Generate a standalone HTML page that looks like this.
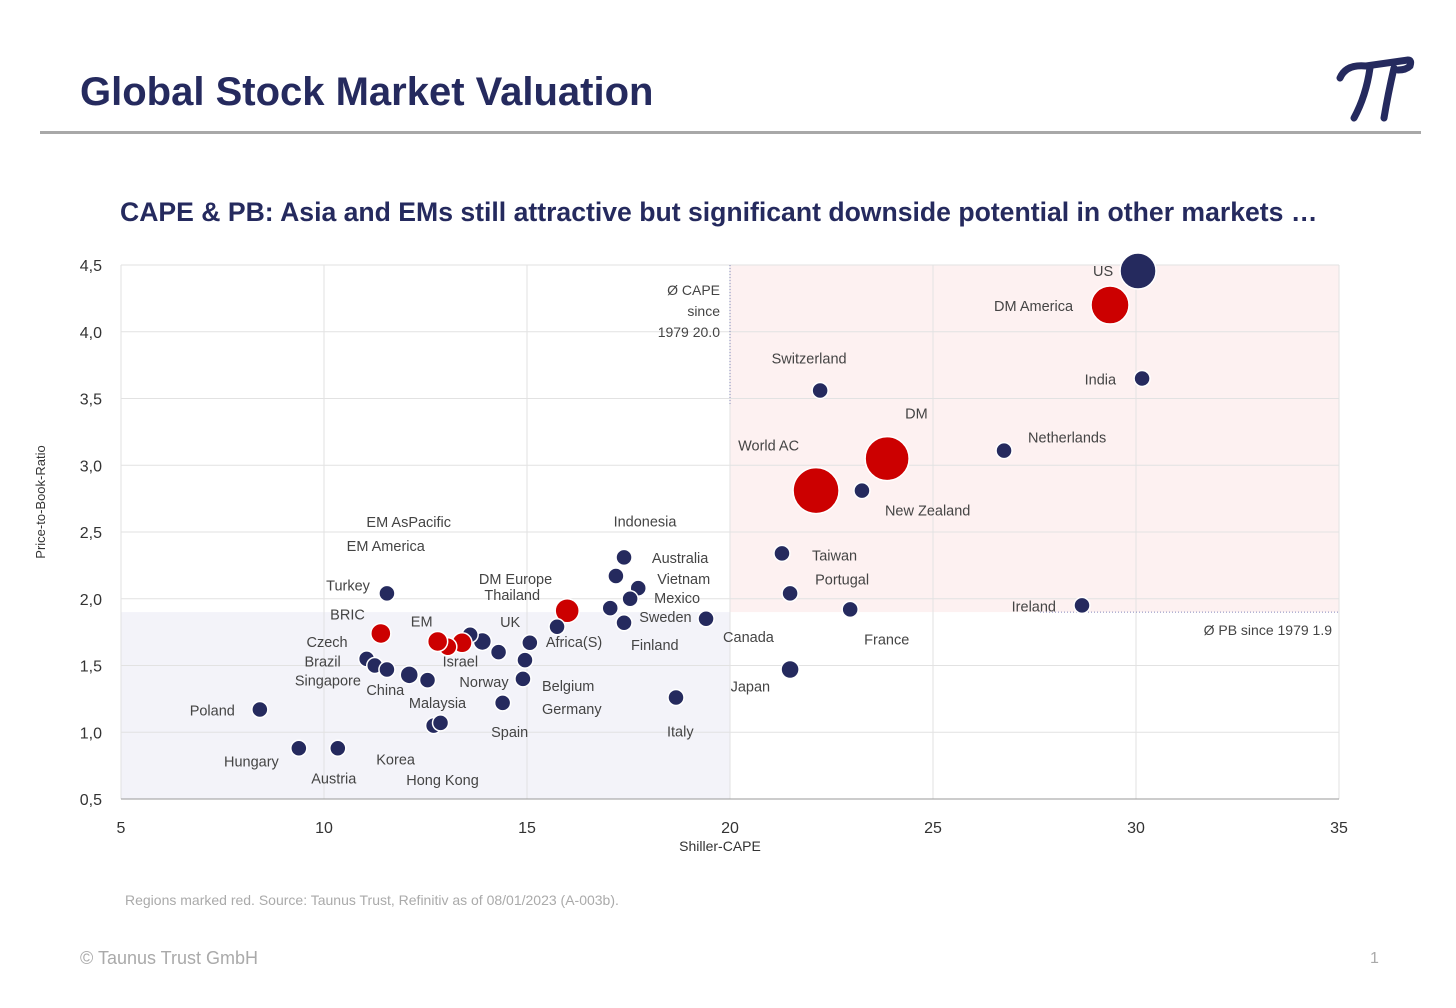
<!DOCTYPE html>
<html><head><meta charset="utf-8"><style>
body{margin:0;width:1456px;height:1008px;background:#fff;font-family:"Liberation Sans",sans-serif;position:relative;overflow:hidden}
.t{position:absolute;white-space:nowrap}
</style></head><body>
<div class="t" style="left:80px;top:70px;font-size:40px;font-weight:bold;color:#252a5e">Global Stock Market Valuation</div>
<svg style="position:absolute;left:1336px;top:56px" width="80" height="68" viewBox="0 0 80 68"><path d="M4 22 Q10 8 30 10 L72 4 Q76 4 74 10 Q70 14 62 14 M34 12 Q30 40 18 62 M58 12 Q52 38 48 62" stroke="#252a5e" stroke-width="7" fill="none" stroke-linecap="round"/></svg>
<div style="position:absolute;left:40px;top:131px;width:1381px;height:3px;background:#a8a8a8"></div>
<div class="t" style="left:120px;top:197px;font-size:26.6px;font-weight:bold;color:#252a5e">CAPE &amp; PB: Asia and EMs still attractive but significant downside potential in other markets …</div>
<svg id="chart" style="position:absolute;left:0;top:0" width="1456" height="1008"></svg>
<div class="t" style="left:125px;top:892px;font-size:14px;color:#aaa">Regions marked red. Source: Taunus Trust, Refinitiv as of 08/01/2023 (A-003b).</div>
<div class="t" style="left:80px;top:948px;font-size:18px;color:#aaa">© Taunus Trust GmbH</div>
<div class="t" style="left:1370px;top:950px;font-size:16px;color:#aaa">1</div>
<script>
const xTicks=[5,10,15,20,25,30,35];
const yTicks=[0.5,1.0,1.5,2.0,2.5,3.0,3.5,4.0,4.5];
const yTickLabels=["0,5","1,0","1,5","2,0","2,5","3,0","3,5","4,0","4,5"];
const avgCape=20.0, avgPB=1.9;
const names=["US","DM America","India","Switzerland","DM","World AC","New Zealand","Netherlands","Taiwan","Portugal","France","Ireland","Canada","Japan","Italy","Indonesia","Australia","Vietnam","Mexico","Sweden","Finland","DM Europe","Thailand","Africa(S)","Belgium","Germany","Spain","Norway","Israel","UK","EM AsPacific","EM America","EM","Malaysia","China","Czech","Brazil","Singapore","Turkey","BRIC","Poland","Hungary","Austria","Korea","Hong Kong"];
const cape=[30.05,29.36,30.15,22.22,23.87,22.12,23.25,26.75,21.28,21.48,22.96,28.67,19.41,21.48,18.67,17.39,17.19,17.74,17.54,17.05,17.39,15.99,15.74,15.07,14.95,14.9,14.4,14.3,13.9,13.6,13.4,13.05,12.8,12.55,12.1,11.05,11.25,11.55,11.55,11.4,8.42,9.38,10.34,12.7,12.87];
const pb=[4.455,4.20,3.65,3.56,3.05,2.81,2.81,3.11,2.34,2.04,1.92,1.95,1.85,1.47,1.26,2.31,2.17,2.08,2.00,1.93,1.82,1.91,1.79,1.67,1.54,1.40,1.22,1.60,1.68,1.73,1.67,1.64,1.68,1.39,1.43,1.55,1.50,1.47,2.04,1.74,1.17,0.88,0.88,1.05,1.07];
const sizes=[18,19,8,8,22,23,8,8,8,8,8,8,8,9,8,8,8,8,8,8,8,12,8,8,8,8,8,8,9,8,10,9,10,8,9,8,8,8,8,10,8,8,8,8,8];
const isRegion=[0,1,0,0,1,1,0,0,0,0,0,0,0,0,0,0,0,0,0,0,0,1,0,0,0,0,0,0,0,0,1,1,1,0,0,0,0,0,0,1,0,0,0,0,0];
const lab=[[-45,0,"start"],[-37,1,"end"],[-26,1,"end"],[-11,-32,"middle"],[18,-45,"start"],[-17,-45,"end"],[23,20,"start"],[24,-13,"start"],[30,2,"start"],[25,-14,"start"],[14,30,"start"],[-26,1,"end"],[17,18,"start"],[-20,17,"end"],[-9,34,"start"],[21,-36,"middle"],[36,-18,"start"],[19,-9,"start"],[24,-1,"start"],[29,9,"start"],[7,22,"start"],[-15,-32,"end"],[-17,-32,"end"],[16,-1,"start"],[17,26,"start"],[19,30,"start"],[7,29,"middle"],[10,30,"end"],[-22,20,"middle"],[40,-13,"middle"],[-11,-121,"end"],[-23,-101,"end"],[-16,-20,"middle"],[10,23,"middle"],[-24,15,"middle"],[-19,-17,"end"],[-34,-4,"end"],[-26,11,"end"],[-17,-8,"end"],[-16,-19,"end"],[-25,1,"end"],[-20,13,"end"],[-4,30,"middle"],[-38,34,"middle"],[2,57,"middle"]];
const X=v=>121+(v-5)*40.6, Y=v=>799-(v-0.5)*133.5;
const s=document.getElementById('chart'),NS="http://www.w3.org/2000/svg";
function mk(t,a,p){const e=document.createElementNS(NS,t);for(const k in a)e.setAttribute(k,a[k]);(p||s).appendChild(e);return e;}
let e;
e=mk('rect',{x:X(avgCape),y:Y(4.5),width:X(35)-X(avgCape),height:Y(avgPB)-Y(4.5),fill:'#fdf1f1'});


e=mk('rect',{x:X(5),y:Y(avgPB),width:X(avgCape)-X(5),height:Y(0.5)-Y(avgPB),fill:'#f3f3f9'});


xTicks.forEach(v=>{e=mk('line',{x1:X(v),x2:X(v),y1:Y(4.5),y2:Y(0.5),stroke:'#e2e2e2'});


e=mk('text',{x:X(v),y:833,'text-anchor':'middle','font-size':16,fill:'#333'});e.textContent=v;

});
yTicks.forEach((v,i)=>{e=mk('line',{x1:X(5),x2:X(35),y1:Y(v),y2:Y(v),stroke:'#e2e2e2'});


e=mk('text',{x:102,y:Y(v)+6,'text-anchor':'end','font-size':16,fill:'#333'});e.textContent=yTickLabels[i];

});
e=mk('line',{x1:X(5),x2:X(35),y1:Y(0.5),y2:Y(0.5),stroke:'#999'});


e=mk('line',{x1:X(avgCape),x2:X(avgCape),y1:Y(4.5),y2:Y(3.45),stroke:'#8888bb','stroke-dasharray':'1 2'});


e=mk('line',{x1:1040,x2:X(35),y1:Y(avgPB),y2:Y(avgPB),stroke:'#8888bb','stroke-dasharray':'1 2'});


[["Ø CAPE",295],["since",316],["1979 20.0",337]].forEach(a=>{e=mk('text',{x:720,y:a[1],'text-anchor':'end','font-size':14,fill:'#444'});e.textContent=a[0];

});
e=mk('text',{x:1332,y:635,'text-anchor':'end','font-size':14,fill:'#444'});e.textContent="Ø PB since 1979 1.9";


e=mk('text',{x:720,y:851,'text-anchor':'middle','font-size':14,fill:'#333'});e.textContent="Shiller-CAPE";


e=mk('text',{x:45,y:502,'text-anchor':'middle','font-size':13,fill:'#333',transform:'rotate(-90 45 502)'});e.textContent="Price-to-Book-Ratio";


names.forEach((n,i)=>{const cx=X(cape[i]),cy=Y(pb[i]);
e=mk('circle',{cx:cx,cy:cy,r:sizes[i],fill:isRegion[i]?'#cc0000':'#252a5e',stroke:'#fff','stroke-width':1.5});


const l=lab[i];
e=mk('text',{x:cx+l[0],y:cy+l[1]+5,'text-anchor':l[2],'font-size':14.5,fill:'#444'});e.textContent=n;

});
</script>
</body></html>
